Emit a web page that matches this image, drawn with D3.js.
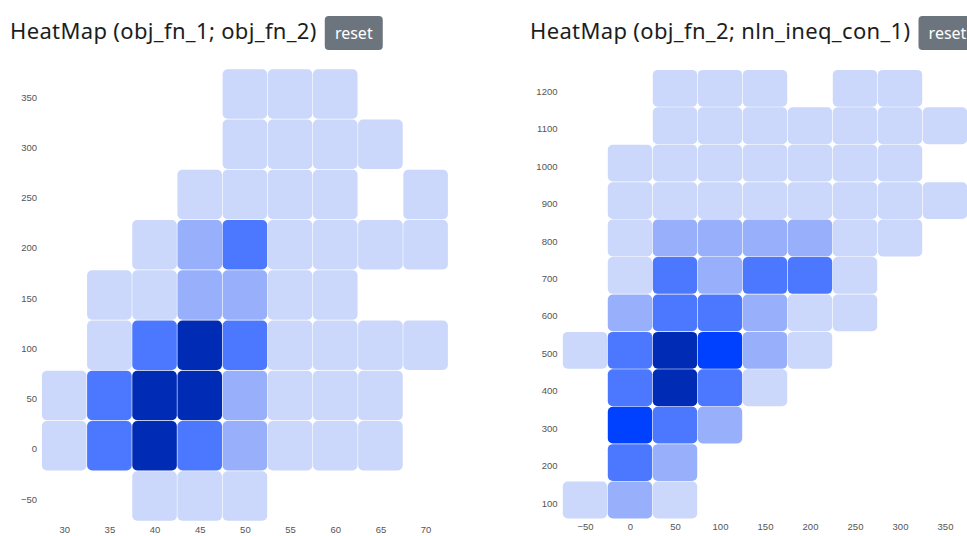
<!DOCTYPE html>
<html>
<head>
<meta charset="utf-8">
<script src="https://cdn.jsdelivr.net/npm/d3@7"></script>
<style>
  body { margin: 0; background: #fff; }
  svg { display: block; }
  .title { font-family: "Noto Sans", sans-serif; font-size: 22px; letter-spacing: 0.35px; fill: #1b1e21; }
  .btn rect { fill: #6c757d; }
  .btn text { font-family: "Noto Sans", sans-serif; font-size: 16px; fill: #fff; }
  .axis text { font-family: "Liberation Sans", Arial, sans-serif; font-size: 9.5px; fill: #555; }
</style>
</head>
<body>
<svg width="967" height="536"></svg>
<script>
// HeatMap pair

// Data: left chart (obj_fn_1 vs obj_fn_2)
var leftX = [30, 35, 40, 45, 50, 55, 60, 65, 70];
var leftY = [350, 300, 250, 200, 150, 100, 50, 0, -50];
var leftCounts = [
  [0, 0, 0, 0, 1, 1, 1, 0, 0],
  [0, 0, 0, 0, 1, 1, 1, 1, 0],
  [0, 0, 0, 1, 1, 1, 1, 0, 1],
  [0, 0, 1, 2, 3, 1, 1, 1, 1],
  [0, 1, 1, 2, 2, 1, 1, 0, 0],
  [0, 1, 3, 5, 3, 1, 1, 1, 1],
  [1, 3, 5, 5, 2, 1, 1, 1, 0],
  [1, 3, 5, 3, 2, 1, 1, 1, 0],
  [0, 0, 1, 1, 1, 0, 0, 0, 0]
];

// Data: right chart (obj_fn_2 vs nln_ineq_con_1)
var rightX = [-50, 0, 50, 100, 150, 200, 250, 300, 350];
var rightY = [1200, 1100, 1000, 900, 800, 700, 600, 500, 400, 300, 200, 100];
var rightCounts = [
  [0, 0, 1, 1, 1, 0, 1, 1, 0],
  [0, 0, 1, 1, 1, 1, 1, 1, 1],
  [0, 1, 1, 1, 1, 1, 1, 1, 0],
  [0, 1, 1, 1, 1, 1, 1, 1, 1],
  [0, 1, 2, 2, 2, 2, 1, 1, 0],
  [0, 1, 3, 2, 3, 3, 1, 0, 0],
  [0, 2, 3, 3, 2, 1, 1, 0, 0],
  [1, 3, 5, 4, 2, 1, 0, 0, 0],
  [0, 3, 5, 3, 1, 0, 0, 0, 0],
  [0, 4, 3, 2, 0, 0, 0, 0, 0],
  [0, 3, 2, 0, 0, 0, 0, 0, 0],
  [1, 2, 1, 0, 0, 0, 0, 0, 0]
];

var titles = ["HeatMap (obj_fn_1; obj_fn_2)", "HeatMap (obj_fn_2; nln_ineq_con_1)"];

// Colour scale over counts
var color = d3.scaleLinear()
  .domain([1, 2, 3, 4, 5])
  .range(["#cbd8fb", "#98b0fb", "#4b78ff", "#0040ff", "#002bb5"]);

var svg = d3.select("svg");

function toCells(xs, ys, counts) {
  var cells = [];
  ys.forEach(function (yv, r) {
    xs.forEach(function (xv, c) {
      if (counts[r][c] > 0) cells.push({x: xv, y: yv, n: counts[r][c]});
    });
  });
  return cells;
}

function drawHeatmap(cfg) {
  var g = svg.append("g").classed("heatmap", true);

  var x = d3.scaleLinear().domain(d3.extent(cfg.xs)).range(cfg.xRange);
  var y = d3.scaleLinear().domain(d3.extent(cfg.ys)).range(cfg.yRange);
  var cw = Math.abs(x(cfg.xs[1]) - x(cfg.xs[0])),
      ch = Math.abs(y(cfg.ys[1]) - y(cfg.ys[0]));

  // title + reset button
  var title = g.append("text")
    .classed("title", true)
    .attr("x", cfg.titleX)
    .attr("y", 39)
    .text(cfg.title);
  var tw = title.node().getComputedTextLength();

  var btn = g.append("g")
    .classed("btn", true)
    .attr("transform", "translate(" + [cfg.titleX + tw + 8, 16] + ")");
  btn.append("rect").attr("width", 58).attr("height", 34).attr("rx", 4);
  btn.append("text").attr("x", 29).attr("y", 23).attr("text-anchor", "middle").text("reset");

  // cells
  g.append("g")
    .classed("cells", true)
    .selectAll("rect")
    .data(toCells(cfg.xs, cfg.ys, cfg.counts))
    .enter()
      .append("rect")
      .attr("x", function (d) { return x(d.x) - cw / 2 + 0.3; })
      .attr("y", function (d) { return y(d.y) - ch / 2 + 0.3; })
      .attr("width", cw - 0.6)
      .attr("height", ch - 0.6)
      .attr("rx", 5)
      .style("fill", function (d) { return color(d.n); });

  // axes
  var xAxis = g.append("g")
    .classed("axis", true)
    .attr("transform", "translate(0," + (d3.max(cfg.yRange) + ch / 2 - 1) + ")")
    .call(d3.axisBottom(x).tickValues(cfg.xs).tickSize(0).tickPadding(6).tickFormat(d3.format("d")));
  xAxis.select(".domain").remove();

  var yAxis = g.append("g")
    .classed("axis", true)
    .attr("transform", "translate(" + [cfg.yAxisX, 3] + ")")
    .call(d3.axisLeft(y).tickValues(cfg.ys).tickSize(0).tickPadding(0).tickFormat(d3.format("d")));
  yAxis.select(".domain").remove();
}

drawHeatmap({
  title: titles[0], titleX: 10,
  xs: leftX, ys: leftY, counts: leftCounts,
  xRange: [64.2, 425.6], yRange: [496, 94], yAxisX: 37
});

drawHeatmap({
  title: titles[1], titleX: 530,
  xs: rightX, ys: rightY, counts: rightCounts,
  xRange: [585, 945], yRange: [500, 88.3], yAxisX: 557.5
});
</script>
</body>
</html>
